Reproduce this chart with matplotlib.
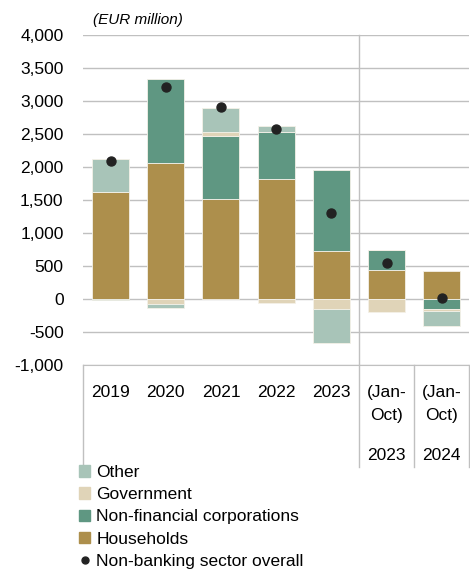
import matplotlib.pyplot as plt
from matplotlib.patches import Patch
from matplotlib.lines import Line2D
from matplotlib.ticker import FuncFormatter
import numpy as np

plt.rcParams['font.family'] = ['Liberation Sans', 'DejaVu Sans']
plt.rcParams['axes.unicode_minus'] = False

# ------------------------------ data ------------------------------ #
line1 = ['2019', '2020', '2021', '2022', '2023', '(Jan-', '(Jan-']
line2 = ['', '', '', '', '', 'Oct)', 'Oct)']
line3 = ['', '', '', '', '', '2023', '2024']

households = [1625, 2060, 1510, 1820, 730, 440, 425]
nfc = [-20, 1275, 960, 710, 1230, 295, -155]
government = [0, -80, 60, -65, -155, -195, -25]
other = [490, -50, 370, 95, -505, 0, -225]
overall = [2090, 3210, 2905, 2570, 1310, 540, 15]

yticks = [-1000, -500, 0, 500, 1000, 1500, 2000, 2500, 3000, 3500, 4000]

series = [
    ('Households', households, '#ad8f4c'),
    ('Non-financial corporations', nfc, '#5f9782'),
    ('Government', government, '#e0d4b8'),
    ('Other', other, '#a8c4b8'),
]

# ------------------------------ plot ------------------------------ #
fig = plt.figure(figsize=(4.7, 5.69), dpi=100)
ax = fig.add_axes([0.1766, 0.3585, 0.822, 0.58])

x = np.arange(len(line1))
pos_bottom = np.zeros(len(x))
neg_bottom = np.zeros(len(x))
for name, vals, color in series:
    vals = np.array(vals, dtype=float)
    bottom = np.where(vals >= 0, pos_bottom, neg_bottom)
    ax.bar(x, vals, bottom=bottom, width=0.67, color=color,
           edgecolor='#f4f1e8', linewidth=0.6, zorder=3)
    pos_bottom += np.where(vals >= 0, vals, 0)
    neg_bottom += np.where(vals < 0, vals, 0)

ax.scatter(x, overall, s=42, color='#222222', zorder=4)

ax.set_xlim(-0.5, 6.5)
ax.set_ylim(-1000, 4000)
ax.set_yticks(yticks)
ax.yaxis.set_major_formatter(FuncFormatter(lambda v, p: f'{int(v):,}'))
ax.tick_params(axis='y', length=0, pad=14, labelsize=12.5)
ax.set_xticks([])
ax.grid(axis='y', color='#c0c0c0', linewidth=1, zorder=0)
for s in ['top', 'right', 'left']:
    ax.spines[s].set_visible(False)
ax.spines['bottom'].set_color('#c0c0c0')

# separators and category area
trans = ax.get_xaxis_transform()
ax.plot([4.5, 4.5], [1.0, -0.31], transform=trans, color='#c0c0c0', lw=1, clip_on=False)
for xv in [-0.5, 5.5, 6.5]:
    ax.plot([xv, xv], [0, -0.31], transform=trans, color='#c0c0c0', lw=1, clip_on=False)

for i in x:
    ax.text(i, -0.082, line1[i], transform=trans, ha='center', va='center', fontsize=12.5)
    ax.text(i, -0.152, line2[i], transform=trans, ha='center', va='center', fontsize=12.5)
    ax.text(i, -0.273, line3[i], transform=trans, ha='center', va='center', fontsize=12.5)

fig.text(0.198, 0.965, '(EUR million)', fontsize=11, style='italic', va='center')

handles = [Patch(color=c) for _, _, c in series[::-1]]
labels = [n for n, _, _ in series[::-1]]
handles.append(Line2D([], [], marker='o', color='#222222', linestyle='none', markersize=5))
labels.append('Non-banking sector overall')
fig.legend(handles, labels, loc='upper left', bbox_to_anchor=(0.168, 0.183),
           frameon=False, fontsize=12.5, handlelength=0.65, handleheight=0.65,
           handletextpad=0.35, labelspacing=0.42, borderpad=0, borderaxespad=0)

plt.savefig('out.png', dpi=100)
